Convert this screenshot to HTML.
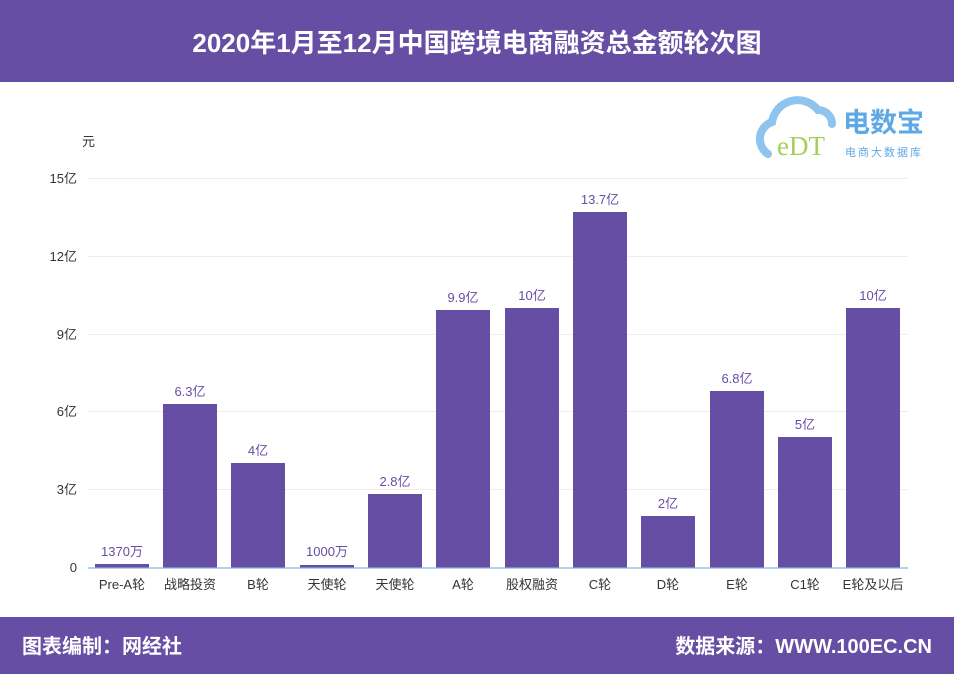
<!DOCTYPE html>
<html><head><meta charset="utf-8"><style>
body{margin:0;width:954px;height:674px;overflow:hidden;background:#fff;font-family:"Liberation Sans","Noto Sans CJK SC",sans-serif}
</style></head><body>
<svg width="954" height="674" xmlns="http://www.w3.org/2000/svg" style="display:block;font-family:'Liberation Sans','Noto Sans CJK SC',sans-serif">
<rect x="0" y="0" width="954" height="82" fill="#664ea4"/>
<text x="477" y="52" text-anchor="middle" fill="#fff" font-size="26" font-weight="bold">2020年1月至12月中国跨境电商融资总金额轮次图</text>
<rect x="0" y="617" width="954" height="57" fill="#664ea4"/>
<text x="22" y="653" fill="#fff" font-size="20" font-weight="bold">图表编制：网经社</text>
<text x="932" y="653" text-anchor="end" fill="#fff" font-size="20" font-weight="bold">数据来源：WWW.100EC.CN</text>
<!-- logo -->
<g>
<path d="M768 154 a18 18 0 0 1 4-32 a26 26 0 0 1 46-12 a14 14 0 0 1 14 14" fill="none" stroke="#8ec4ee" stroke-width="8" stroke-linecap="round"/>
<text x="777" y="155" fill="#a6cf5a" font-size="27" font-family="Liberation Serif,serif">eDT</text>
<text x="843" y="132" fill="#5fa8e6" font-size="27" font-weight="bold">电数宝</text>
<text x="845" y="156" fill="#5fa8e6" font-size="11" letter-spacing="2">电商大数据库</text>
</g>
<text x="82" y="146" fill="#333" font-size="13">元</text>
<g stroke="#ececec" stroke-width="1">
<line x1="88" y1="178.5" x2="908" y2="178.5"/>
<line x1="88" y1="256.5" x2="908" y2="256.5"/>
<line x1="88" y1="334.5" x2="908" y2="334.5"/>
<line x1="88" y1="411.5" x2="908" y2="411.5"/>
<line x1="88" y1="489.5" x2="908" y2="489.5"/>
</g>
<line x1="88" y1="568" x2="908" y2="568" stroke="#9cc3e6" stroke-width="1.5"/>
<g fill="#333" font-size="13" text-anchor="end">
<text x="77" y="183">15亿</text><text x="77" y="261">12亿</text><text x="77" y="339">9亿</text>
<text x="77" y="416">6亿</text><text x="77" y="494">3亿</text><text x="77" y="572">0</text>
</g>
<g fill="#664ea4">
<rect x="95" y="564" width="54" height="3.5"/>
<rect x="163" y="404" width="54" height="163.5"/>
<rect x="231" y="463" width="54" height="104.5"/>
<rect x="300" y="565" width="54" height="2.5"/>
<rect x="368" y="494" width="54" height="73.5"/>
<rect x="436" y="310" width="54" height="257.5"/>
<rect x="505" y="308" width="54" height="259.5"/>
<rect x="573" y="212" width="54" height="355.5"/>
<rect x="641" y="516" width="54" height="51.5"/>
<rect x="710" y="391" width="54" height="176.5"/>
<rect x="778" y="437" width="54" height="130.5"/>
<rect x="846" y="308" width="54" height="259.5"/>
</g>
<g fill="#664ea4" font-size="13" text-anchor="middle">
<text x="122" y="556">1370万</text><text x="190" y="396">6.3亿</text><text x="258" y="455">4亿</text>
<text x="327" y="556">1000万</text><text x="395" y="486">2.8亿</text><text x="463" y="302">9.9亿</text>
<text x="532" y="300">10亿</text><text x="600" y="204">13.7亿</text><text x="668" y="508">2亿</text>
<text x="737" y="383">6.8亿</text><text x="805" y="429">5亿</text><text x="873" y="300">10亿</text>
</g>
<g fill="#333" font-size="13" text-anchor="middle">
<text x="122" y="589">Pre-A轮</text><text x="190" y="589">战略投资</text><text x="258" y="589">B轮</text>
<text x="327" y="589">天使轮</text><text x="395" y="589">天使轮</text><text x="463" y="589">A轮</text>
<text x="532" y="589">股权融资</text><text x="600" y="589">C轮</text><text x="668" y="589">D轮</text>
<text x="737" y="589">E轮</text><text x="805" y="589">C1轮</text><text x="873" y="589">E轮及以后</text>
</g>
</svg>
</body></html>
